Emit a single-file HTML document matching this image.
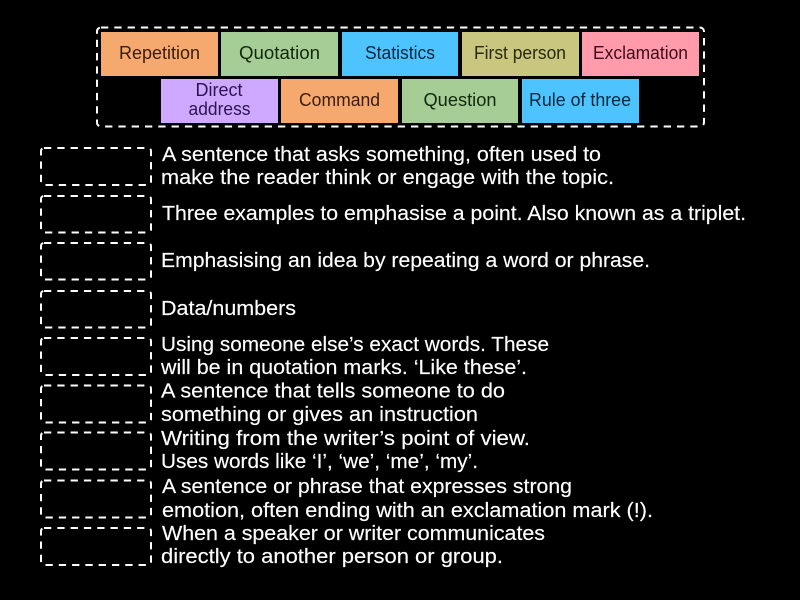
<!DOCTYPE html>
<html><head><meta charset="utf-8"><style>
html,body{margin:0;padding:0;background:#000}
svg{display:block}
text{font-family:"Liberation Sans",sans-serif}
.t{font-size:18px;text-anchor:middle}
.d{font-size:20.5px;fill:#fff;stroke:#fff;stroke-width:.15}
.b{fill:none;stroke:#fff;stroke-width:2;stroke-dasharray:7.3 6}
</style></head><body>
<svg width="800" height="600" viewBox="0 0 800 600" xmlns="http://www.w3.org/2000/svg">
<rect width="800" height="600" fill="#000"/>
<rect class="b" x="97" y="27.500" width="607" height="99" rx="4"/>
<g>
<rect x="101" y="32" width="117" height="44" fill="#f6a96f"/>
<rect x="221" y="32" width="117" height="44" fill="#a5cd95"/>
<rect x="342" y="32" width="116" height="44" fill="#4dc3ff"/>
<rect x="462" y="32" width="117" height="44" fill="#c9c67f"/>
<rect x="582" y="32" width="117" height="44" fill="#ff9bab"/>
<rect x="161" y="79" width="117" height="44" fill="#cfa8ff"/>
<rect x="281" y="79" width="117" height="44" fill="#f6a96f"/>
<rect x="402" y="79" width="116" height="44" fill="#a5cd95"/>
<rect x="522" y="79" width="117" height="44" fill="#4dc3ff"/>
</g>
<text class="t" x="159.500" y="59" fill="#3a1c08" textLength="81" lengthAdjust="spacingAndGlyphs">Repetition</text>
<text class="t" x="279.500" y="59" fill="#0f2a0c" textLength="81" lengthAdjust="spacingAndGlyphs">Quotation</text>
<text class="t" x="400" y="59" fill="#06263a" textLength="70" lengthAdjust="spacingAndGlyphs">Statistics</text>
<text class="t" x="520" y="59" fill="#2a2a0c" textLength="92" lengthAdjust="spacingAndGlyphs">First person</text>
<text class="t" x="640.500" y="59" fill="#3d0c1c" textLength="95" lengthAdjust="spacingAndGlyphs">Exclamation</text>
<text class="t" x="219" y="96" fill="#2c1450" textLength="47" lengthAdjust="spacingAndGlyphs">Direct</text>
<text class="t" x="219.500" y="115" fill="#2c1450" textLength="62" lengthAdjust="spacingAndGlyphs">address</text>
<text class="t" x="339.500" y="106" fill="#3a1c08" textLength="81" lengthAdjust="spacingAndGlyphs">Command</text>
<text class="t" x="460" y="106" fill="#0f2a0c" textLength="73" lengthAdjust="spacingAndGlyphs">Question</text>
<text class="t" x="580" y="106" fill="#06263a" textLength="102" lengthAdjust="spacingAndGlyphs">Rule of three</text>

<rect class="b" x="41" y="148" width="110" height="37" rx="3"/>
<rect class="b" x="41" y="196" width="110" height="36.500" rx="3"/>
<rect class="b" x="41" y="243" width="110" height="36.500" rx="3"/>
<rect class="b" x="41" y="291" width="110" height="36.500" rx="3"/>
<rect class="b" x="41" y="338" width="110" height="37" rx="3"/>
<rect class="b" x="41" y="385.500" width="110" height="37" rx="3"/>
<rect class="b" x="41" y="432.500" width="110" height="37" rx="3"/>
<rect class="b" x="41" y="480.500" width="110" height="37" rx="3"/>
<rect class="b" x="41" y="528" width="110" height="37" rx="3"/>

<text class="d" x="162" y="161" textLength="439" lengthAdjust="spacingAndGlyphs">A sentence that asks something, often used to</text>
<text class="d" x="161" y="184" textLength="453" lengthAdjust="spacingAndGlyphs">make the reader think or engage with the topic.</text>
<text class="d" x="162" y="220" textLength="584" lengthAdjust="spacingAndGlyphs">Three examples to emphasise a point. Also known as a triplet.</text>
<text class="d" x="161" y="267" textLength="489" lengthAdjust="spacingAndGlyphs">Emphasising an idea by repeating a word or phrase.</text>
<text class="d" x="161" y="315" textLength="135" lengthAdjust="spacingAndGlyphs">Data/numbers</text>
<text class="d" x="161" y="351" textLength="388" lengthAdjust="spacingAndGlyphs">Using someone else’s exact words. These</text>
<text class="d" x="161" y="374" textLength="366" lengthAdjust="spacingAndGlyphs">will be in quotation marks. ‘Like these’.</text>
<text class="d" x="161" y="397.500" textLength="344" lengthAdjust="spacingAndGlyphs">A sentence that tells someone to do</text>
<text class="d" x="161" y="421" textLength="317" lengthAdjust="spacingAndGlyphs">something or gives an instruction</text>
<text class="d" x="161" y="445" textLength="369" lengthAdjust="spacingAndGlyphs">Writing from the writer’s point of view.</text>
<text class="d" x="161" y="468" textLength="317" lengthAdjust="spacingAndGlyphs">Uses words like ‘I’, ‘we’, ‘me’, ‘my’.</text>
<text class="d" x="162" y="493" textLength="410" lengthAdjust="spacingAndGlyphs">A sentence or phrase that expresses strong</text>
<text class="d" x="162" y="517" textLength="491" lengthAdjust="spacingAndGlyphs">emotion, often ending with an exclamation mark (!).</text>
<text class="d" x="162" y="540" textLength="383" lengthAdjust="spacingAndGlyphs">When a speaker or writer communicates</text>
<text class="d" x="161" y="563" textLength="342" lengthAdjust="spacingAndGlyphs">directly to another person or group.</text>
</svg>
</body></html>
